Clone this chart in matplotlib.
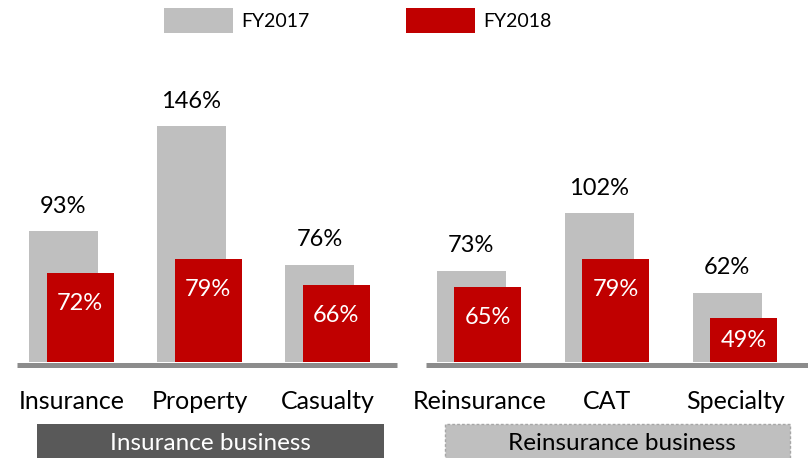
import matplotlib
matplotlib.use("Agg")
import matplotlib.pyplot as plt
import matplotlib.transforms as mtransforms
from matplotlib.patches import Rectangle

plt.rcParams['font.family'] = ['Lato', 'DejaVu Sans']

# donnees
groups = ["Insurance business", "Reinsurance business"]
categories = [["Insurance", "Property", "Casualty"],
              ["Reinsurance", "CAT", "Specialty"]]
fy2017 = [[93, 146, 76], [73, 102, 62]]
fy2018 = [[72, 79, 66], [65, 79, 49]]
series_names = ["FY2017", "FY2018"]

GRIS = "#bfbfbf"
ROUGE = "#c00000"
BASE = "#8c8c8c"
Y0 = 27          # bas de l'axe (les barres partent de 0, coupees a Y0)
Y1 = 189.6

fig = plt.figure(figsize=(8.08, 4.58), dpi=100)

axes_pos = [[17 / 808, 96 / 458, 380 / 808, 322 / 458],
            [426 / 808, 96 / 458, 382 / 808, 322 / 458]]
xlims = [(-0.363, 2.606), (-0.352, 2.632)]

handles = None
for k in range(2):
    ax = fig.add_axes(axes_pos[k])
    x = list(range(len(categories[k])))
    b1 = ax.bar(x, fy2017[k], width=0.539, color=GRIS, zorder=2)
    b2 = ax.bar([i + 0.13 for i in x], fy2018[k], width=0.523, color=ROUGE, zorder=3)
    if handles is None:
        handles = [b1, b2]
    ax.set_xlim(*xlims[k])
    ax.set_ylim(Y0, Y1)
    ax.axis('off')

    # ligne de base
    trans = mtransforms.offset_copy(ax.transAxes, fig=fig, y=-1.8, units='points')
    ax.plot([0, 1], [0, 0], color=BASE, lw=3.6, transform=trans,
            clip_on=False, solid_capstyle='butt', zorder=1)

    for i in x:
        v = fy2017[k][i]
        ax.annotate(f"{v}%", (i, v), xytext=(0, 18), textcoords='offset points',
                    ha='center', va='center', fontsize=17, color='black')
        r = fy2018[k][i]
        h_px = (r - Y0) * 322 / (Y1 - Y0)
        if h_px > 62:
            ax.annotate(f"{r}%", (i + 0.13, r), xytext=(0, -22.3),
                        textcoords='offset points', ha='center', va='center',
                        fontsize=17, color='white', zorder=5)
        else:
            ax.annotate(f"{r}%", (i + 0.13, (r + Y0) / 2), ha='center', va='center',
                        fontsize=17, color='white', zorder=5)
        ax.annotate(categories[k][i], (i + 0.065, Y0), xytext=(0, -28.5),
                    textcoords='offset points', ha='center', va='center',
                    fontsize=18, color='black', annotation_clip=False)

# cadres des groupes
fig.patches.append(Rectangle((37 / 808, 0), 347 / 808, 34 / 458,
                             transform=fig.transFigure, facecolor="#595959",
                             edgecolor='none'))
fig.patches.append(Rectangle((445 / 808, -0.01), 345 / 808, 34 / 458 + 0.01,
                             transform=fig.transFigure, facecolor=GRIS,
                             edgecolor="#a6a6a6", linestyle=(0, (2, 1.5)), lw=1))
fig.text(210 / 808, 1 - 443 / 458, groups[0], ha='center', va='center',
         fontsize=17.5, color='white')
fig.text(622 / 808, 1 - 443 / 458, groups[1], ha='center', va='center',
         fontsize=17.5, color='black')

# legende
fig.legend(handles, series_names, loc='upper left', bbox_to_anchor=(164 / 808, 1 - 8 / 458),
           ncol=2, frameon=False, fontsize=14, handlelength=3.55, handleheight=1.6,
           handletextpad=0.4, columnspacing=5.0, borderpad=0, borderaxespad=0)

fig.savefig("out.png", dpi=100)
